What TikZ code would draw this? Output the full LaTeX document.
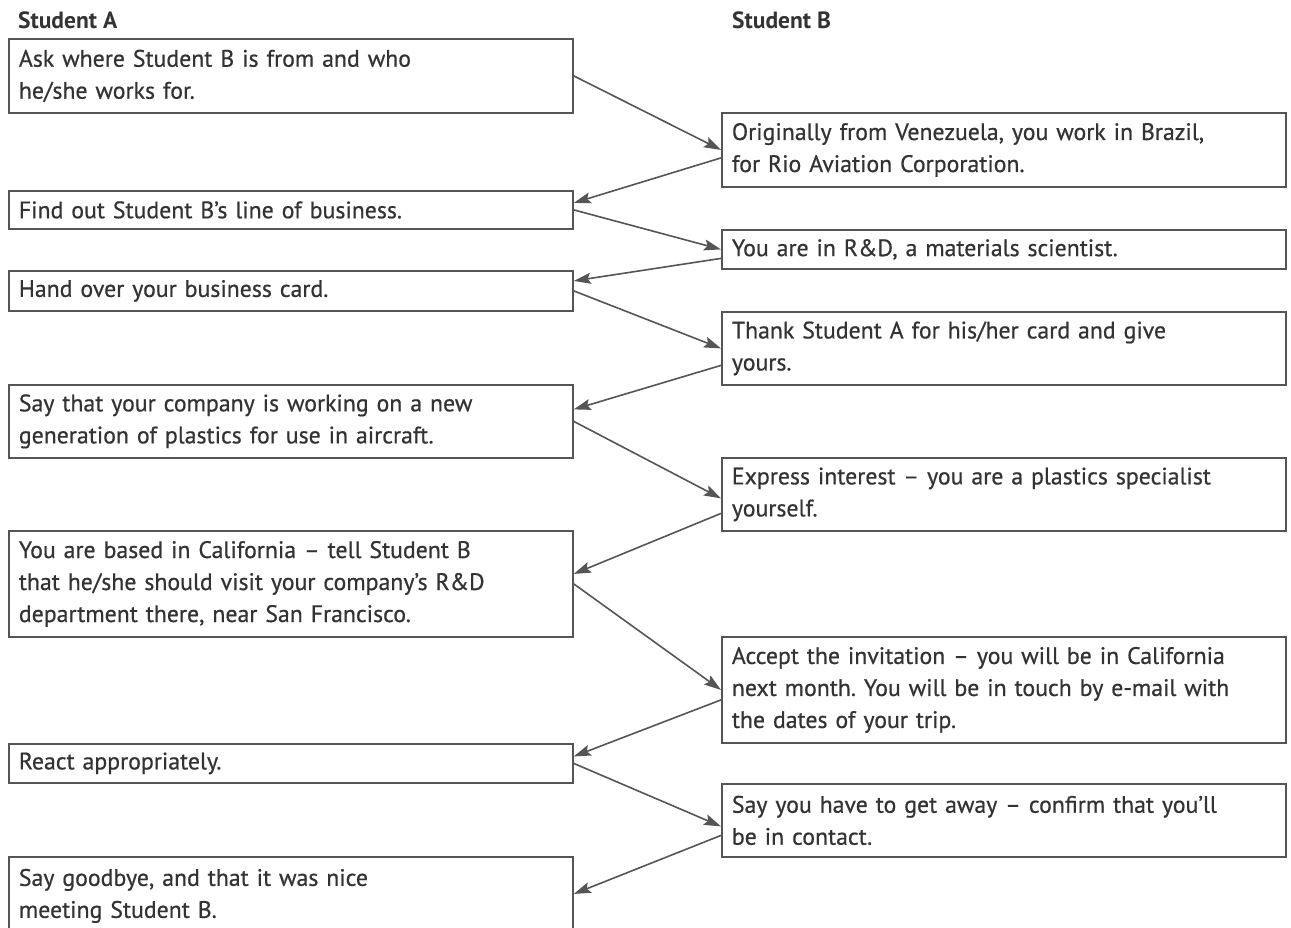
\documentclass[tikz,border=0pt]{standalone}
\usepackage{fontspec}
\setmainfont{PT Sans}
\newfontfamily\boxfont[FakeBold=0.6]{PT Sans}
\usetikzlibrary{arrows.meta}
\definecolor{ink}{HTML}{333333}
\definecolor{edge}{HTML}{555555}
\begin{document}
\frenchspacing
\begin{tikzpicture}[x=1pt,y=-1pt,
  box/.style={draw=edge, line width=1.8pt, rectangle, anchor=north west,
    minimum width=564pt, inner xsep=10pt, inner ysep=0pt, text width=544pt,
    align=left, font=\boxfont\fontsize{23.8}{32}\selectfont, text=ink},
  arr/.style={draw=edge, line width=1.6pt, -{Stealth[length=17pt,width=11pt,inset=3pt]}},
  head/.style={anchor=base west, inner sep=0pt, font=\fontsize{23.5}{26}\selectfont\bfseries, text=ink}]
\useasboundingbox (0,0) rectangle (1291,927);
\clip (0,0) rectangle (1291,927);
\fill[white] (0,0) rectangle (1291,927);

\node[head] (hA) at (18,28) {Student A};
\node[head] (hB) at (732,28) {Student B};

\node[box, minimum height=74pt] (L1) at (8,38) {Ask where Student B is from and who\\he/she works for.};
\node[box, minimum height=74pt] (R1) at (721,112) {Originally from Venezuela, you work in Brazil,\\for Rio Aviation Corporation.};
\node[box, minimum height=38pt] (L2) at (8,190) {Find out Student B’s line of business.};
\node[box, minimum height=39pt] (R2) at (721,229) {You are in R\&D, a materials scientist.};
\node[box, minimum height=40pt] (L3) at (8,270) {Hand over your business card.};
\node[box, minimum height=73pt] (R3) at (721,311) {Thank Student A for his/her card and give\\yours.};
\node[box, minimum height=73pt] (L4) at (8,384) {Say that your company is working on a new\\generation of plastics for use in aircraft.};
\node[box, minimum height=73pt] (R4) at (721,457) {Express interest – you are a plastics specialist\\yourself.};
\node[box, minimum height=106pt] (L5) at (8,530) {You are based in California – tell Student B\\that he/she should visit your company’s R\&D\\department there, near San Francisco.};
\node[box, minimum height=106pt] (R5) at (721,636) {Accept the invitation – you will be in California\\next month. You will be in touch by e-mail with\\the dates of your trip.};
\node[box, minimum height=39pt] (L6) at (8,743) {React appropriately.};
\node[box, minimum height=73pt] (R6) at (721,783) {Say you have to get away – confirm that you’ll\\be in contact.};
\node[box, minimum height=78pt] (L7) at (8,856) {Say goodbye, and that it was nice\\meeting Student B.};

\draw[arr] (L1.east) -- (R1.west);
\draw[arr] ([yshift=-8pt]R1.west) -- ([yshift=7pt]L2.east);
\draw[arr] (L2.east) -- (R2.west);
\draw[arr] ([yshift=-9pt]R2.west) -- ([yshift=10pt]L3.east);
\draw[arr] (L3.east) -- (R3.west);
\draw[arr] ([yshift=-17pt]R3.west) -- ([yshift=12pt]L4.east);
\draw[arr] (L4.east) -- ([yshift=-4pt]R4.west);
\draw[arr] ([yshift=-19pt]R4.west) -- ([yshift=10pt]L5.east);
\draw[arr] (L5.east) -- (R5.west);
\draw[arr] ([yshift=-10pt]R5.west) -- ([yshift=7pt]L6.east);
\draw[arr] (L6.east) -- ([yshift=-6pt]R6.west);
\draw[arr] ([yshift=-15pt]R6.west) -- ([yshift=2pt]L7.east);
\end{tikzpicture}
\end{document}
